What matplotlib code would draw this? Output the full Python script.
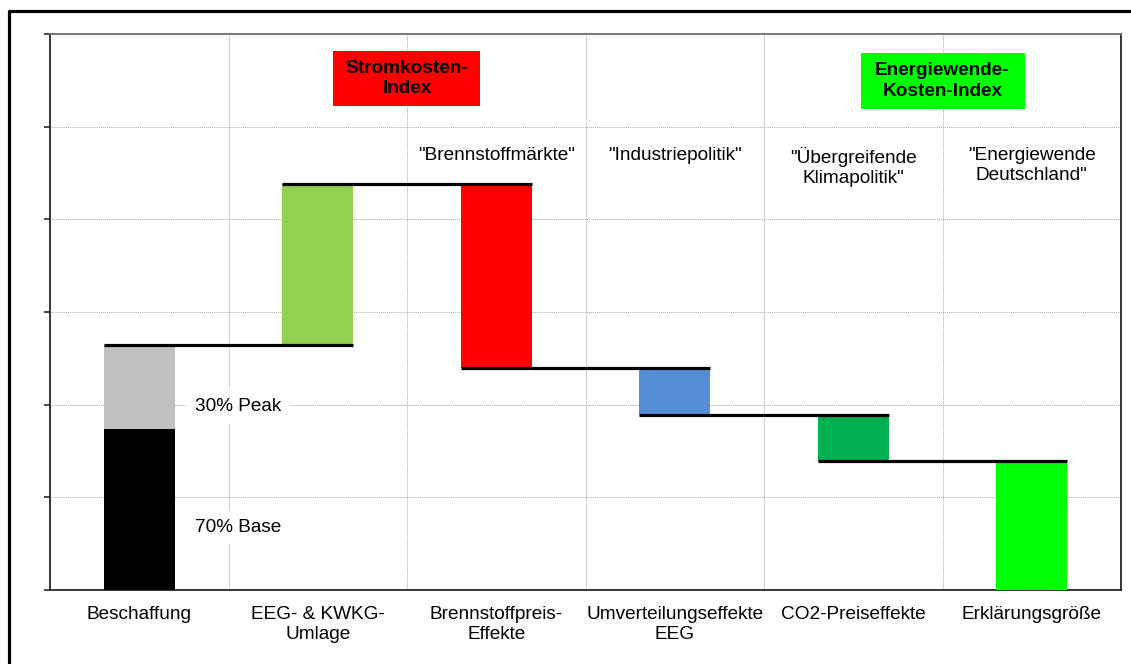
import matplotlib.pyplot as plt
from matplotlib.lines import Line2D
from matplotlib.patches import Rectangle

plt.rcParams["font.family"] = ["Liberation Sans", "DejaVu Sans"]

categories = ["Beschaffung", "EEG- & KWKG-\nUmlage", "Brennstoffpreis-\nEffekte",
              "Umverteilungseffekte\nEEG", "CO2-Preiseffekte", "Erklärungsgröße"]
base_part = 1.74
peak_part = 0.90
deltas = [1.74, -1.98, -0.51, -0.50, -1.39]
delta_colors = ["#92D050", "#FF0000", "#558ED5", "#00B050", "#00FF00"]
groups = ['"Brennstoffmärkte"', '"Industriepolitik"',
          '"Übergreifende\nKlimapolitik"', '"Energiewende\nDeutschland"']

W = 0.4
FS = 13.7

fig = plt.figure(figsize=(11.31, 6.64), dpi=100)
ax = fig.add_axes([50 / 1131, 74 / 664, 1071 / 1131, 556 / 664])

# first column: stacked base + peak
ax.bar(0, base_part, W, color="black", zorder=3)
ax.bar(0, peak_part, W, bottom=base_part, color="#C0C0C0", zorder=3)

levels = [base_part + peak_part]
for d in deltas:
    levels.append(levels[-1] + d)

for i, d in enumerate(deltas, start=1):
    lo = min(levels[i - 1], levels[i])
    ax.bar(i, abs(d), W, bottom=lo, color=delta_colors[i - 1], zorder=3)

# step connectors between consecutive columns
for i in range(len(deltas)):
    ax.plot([i - W / 2, i + 1 + W / 2], [levels[i], levels[i]],
            color="black", lw=2.3, zorder=4, solid_capstyle="butt")

ax.text(0.553, 1.985, "30% Peak", ha="center", va="center", fontsize=FS,
        bbox=dict(facecolor="white", edgecolor="none", pad=6), zorder=5)
ax.text(0.553, 0.67, "70% Base", ha="center", va="center", fontsize=FS,
        bbox=dict(facecolor="white", edgecolor="none", pad=6), zorder=5)

for i, g in enumerate(groups, start=2):
    ax.text(i, 4.78, g, ha="center", va="top", fontsize=FS, linespacing=1.2, zorder=5)

# index boxes
ax.add_patch(Rectangle((1.085, 5.223), 0.824, 0.593, facecolor="#FF0000",
                       edgecolor="none", zorder=5))
ax.text(1.5, 5.52, "Stromkosten-\nIndex", ha="center", va="center", fontsize=FS,
        fontweight="bold", linespacing=1.3, zorder=6)
ax.add_patch(Rectangle((4.043, 5.19), 0.919, 0.605, facecolor="#00FF00",
                       edgecolor="none", zorder=5))
ax.text(4.5, 5.49, "Energiewende-\nKosten-Index", ha="center", va="center", fontsize=FS,
        fontweight="bold", linespacing=1.3, zorder=6)

ax.set_xlim(-0.5, 5.5)
ax.set_ylim(0, 6)
ax.set_yticks(range(7))
ax.set_yticklabels([])
ax.set_xticks(range(6))
ax.set_xticklabels(categories, fontsize=FS, linespacing=1.25)
ax.set_xticks([0.5, 1.5, 2.5, 3.5, 4.5], minor=True)
ax.tick_params(axis="x", which="both", length=0, pad=11.5)
ax.tick_params(axis="y", direction="out", length=4.5, width=1.2, color="#262626")

ax.grid(axis="y", which="major", color="#A8A8A8", lw=0.7, ls=(0, (1, 1)), zorder=0)
ax.grid(axis="x", which="minor", color="#A8A8A8", lw=0.7, ls=(0, (1, 1)), zorder=0)
ax.grid(axis="x", which="major", visible=False)

for side in ("left", "bottom", "right"):
    ax.spines[side].set_color("#262626")
    ax.spines[side].set_linewidth(1.3)
ax.spines["top"].set_color("#707070")
ax.spines["top"].set_linewidth(1.3)

# outer frame, open at bottom and right
fig.add_artist(Line2D([9 / 1131, 9 / 1131, 1.0], [0.0, 1 - 11 / 664, 1 - 11 / 664],
                      transform=fig.transFigure, color="black", lw=2.3))

fig.savefig("out.png", dpi=100)
